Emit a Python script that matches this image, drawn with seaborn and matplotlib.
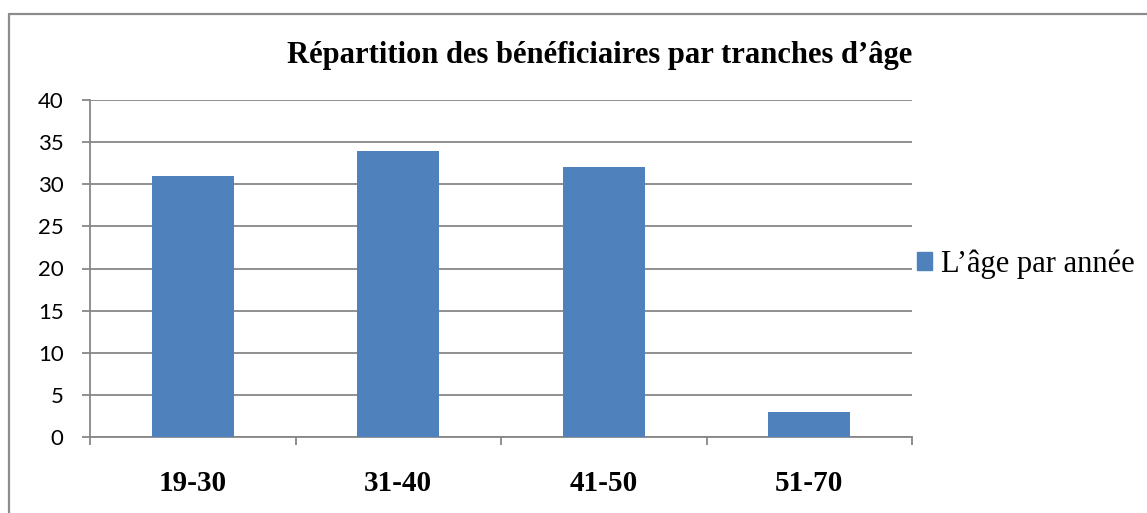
import matplotlib
matplotlib.use("Agg")
import matplotlib.pyplot as plt
import matplotlib.lines as mlines
import matplotlib.patches as mpatches
import pandas as pd
import seaborn as sns
from matplotlib.ticker import FixedLocator, MultipleLocator

categories = ["19-30", "31-40", "41-50", "51-70"]
values = [31, 34, 32, 3]
series_name = "L\u2019âge par année"
title = "Répartition des bénéficiaires par tranches d\u2019âge"

BAR_COLOR = "#4F81BD"
GRID_COLOR = "#878787"
SERIF = ["Liberation Serif", "DejaVu Serif"]
SANS = ["Lato", "DejaVu Sans"]

sns.set_theme(style="white")
plt.rcParams["font.family"] = SANS
plt.rcParams["text.color"] = "black"
plt.rcParams["xtick.color"] = "black"
plt.rcParams["ytick.color"] = "black"

W, H = 1147, 513
fig = plt.figure(figsize=(W / 100, H / 100), dpi=100)
fig.patch.set_facecolor("white")

left, right, top, bottom = 90, 912, 100, 437
ax = fig.add_axes([left / W, (H - bottom) / H, (right - left) / W, (bottom - top) / H])

df = pd.DataFrame({"tranche": categories, "valeur": values})
sns.barplot(data=df, x="tranche", y="valeur", color=BAR_COLOR, width=0.4,
            saturation=1, linewidth=0, ax=ax, zorder=3)

ax.set_ylim(0, 40)
ax.set_xlim(-0.5, len(categories) - 0.5)
ax.yaxis.set_major_locator(MultipleLocator(5))
ax.grid(axis="y", color=GRID_COLOR, linewidth=1.3, zorder=0)
ax.set_axisbelow(True)

for side in ["top", "right"]:
    ax.spines[side].set_visible(False)
for side in ["left", "bottom"]:
    ax.spines[side].set_color(GRID_COLOR)
    ax.spines[side].set_linewidth(1.3)

ax.tick_params(axis="y", which="major", direction="out", length=6, width=1.3,
               color=GRID_COLOR, pad=13, labelsize=16, labelcolor="black", left=True)
ax.xaxis.set_minor_locator(FixedLocator([i - 0.5 for i in range(len(categories) + 1)]))
ax.tick_params(axis="x", which="minor", direction="out", length=6, width=1.3,
               color=GRID_COLOR, bottom=True)
ax.tick_params(axis="x", which="major", length=0, pad=24, labelcolor="black")
for lbl in ax.get_xticklabels():
    lbl.set_fontfamily(SERIF)
    lbl.set_fontweight("bold")
    lbl.set_fontsize(21)
for lbl in ax.get_yticklabels():
    lbl.set_fontfamily(SANS)

ax.set_xlabel("")
ax.set_ylabel("")

fig.text(600 / W, 1 - 56 / H, title, ha="center", va="center", color="black",
         fontsize=22, fontweight="bold", family=SERIF)

handle = mpatches.Patch(color=BAR_COLOR, label=series_name)
leg = fig.legend(handles=[handle], loc="center left",
                 bbox_to_anchor=(917 / W, 1 - 264 / H), frameon=False,
                 prop={"family": SERIF, "size": 22},
                 handlelength=0.5, handleheight=0.5, handletextpad=0.3,
                 borderaxespad=0, borderpad=0, labelcolor="black")

fig.add_artist(mlines.Line2D([9 / W, 9 / W], [0, 1 - 14 / H], color="#8c8c8c",
                             linewidth=1.6, transform=fig.transFigure))
fig.add_artist(mlines.Line2D([9 / W, 1], [1 - 14 / H, 1 - 14 / H], color="#8c8c8c",
                             linewidth=1.6, transform=fig.transFigure))

fig.savefig("out.png", dpi=100, facecolor="white")
